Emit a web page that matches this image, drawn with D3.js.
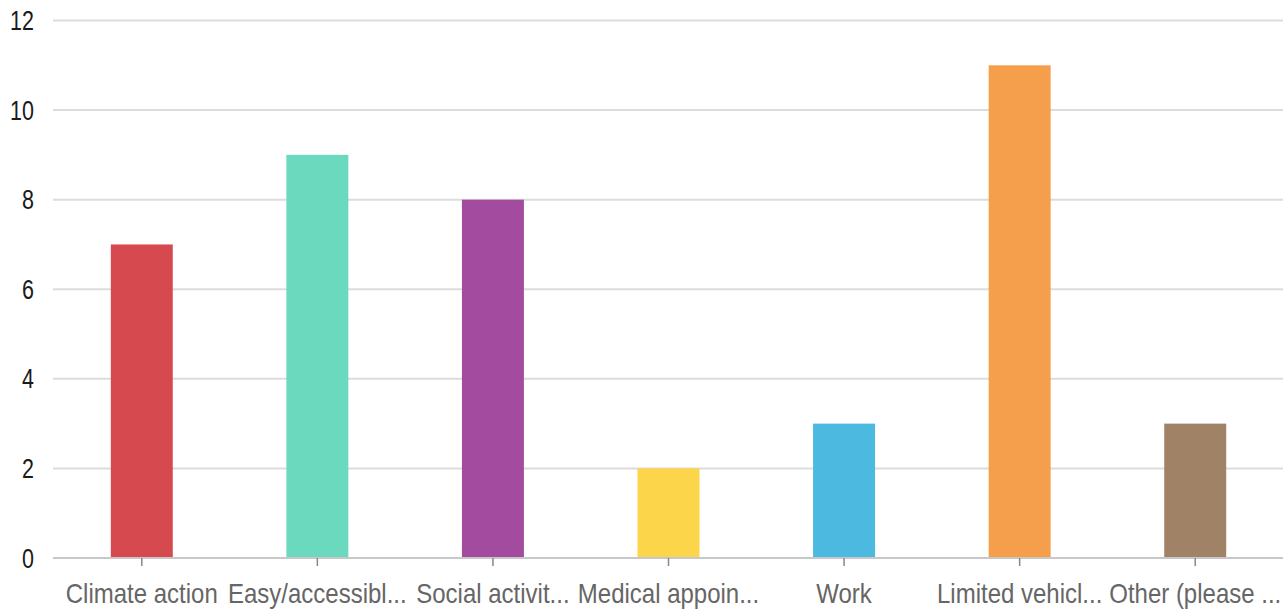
<!DOCTYPE html>
<html>
<head>
<meta charset="utf-8">
<script src="https://cdn.jsdelivr.net/npm/d3@7"></script>
<style>
  html, body { margin: 0; padding: 0; background: #fff; }
  svg { display: block; }
</style>
</head>
<body>
<svg id="chart" width="1288" height="611"></svg>
<script>
'use strict'

const categories = ['Climate action', 'Easy/accessibl...', 'Social activit...', 'Medical appoin...', 'Work', 'Limited vehicl...', 'Other (please ...']
const values = [7, 9, 8, 2, 3, 11, 3]
const colors = ['#d64a4f', '#6ad9be', '#a34c9f', '#fdd54b', '#4bb9e0', '#f59f4c', '#a08266']
const yTicks = [0, 2, 4, 6, 8, 10, 12]

const width = 1288
const height = 611
const margin = { top: 20, right: 5, bottom: 53, left: 54 }

const svg = d3.select('#chart')
const font = '"Liberation Sans", Arial, sans-serif'

const x = d3.scaleBand()
  .domain(categories)
  .range([margin.left, width - margin.right])
  .paddingInner(0.647)
  .paddingOuter(0.3235)

const y = d3.scaleLinear()
  .domain([0, 12])
  .range([height - margin.bottom, margin.top + 0.5])

// gridlines
svg.append('g')
  .selectAll('line')
  .data(yTicks.filter(d => d !== 0))
  .join('line')
  .attr('x1', margin.left - 1)
  .attr('x2', width - margin.right)
  .attr('y1', d => y(d))
  .attr('y2', d => y(d))
  .attr('stroke', '#dcdcdc')
  .attr('stroke-width', 2)

// y labels
svg.append('g')
  .selectAll('text')
  .data(yTicks)
  .join('text')
  .attr('transform', d => `translate(34,${y(d) + 9.5}) scale(1,1.27)`)
  .attr('text-anchor', 'end')
  .attr('font-family', font)
  .attr('font-size', 21.5)
  .attr('fill', '#1a1a1a')
  .text(d => d)

// bars
svg.append('g')
  .selectAll('rect')
  .data(values)
  .join('rect')
  .attr('x', (d, i) => x(categories[i]))
  .attr('width', x.bandwidth())
  .attr('y', d => y(d))
  .attr('height', d => y(0) - y(d))
  .attr('fill', (d, i) => colors[i])

// zero line + ticks
svg.append('line')
  .attr('x1', margin.left - 1)
  .attr('x2', width - margin.right)
  .attr('y1', y(0))
  .attr('y2', y(0))
  .attr('stroke', '#c8c8c8')
  .attr('stroke-width', 2)

svg.append('g')
  .selectAll('line')
  .data(categories)
  .join('line')
  .attr('x1', d => x(d) + x.bandwidth() / 2)
  .attr('x2', d => x(d) + x.bandwidth() / 2)
  .attr('y1', y(0))
  .attr('y2', y(0) + 8)
  .attr('stroke', '#888')
  .attr('stroke-width', 1.5)

// x labels
svg.append('g')
  .selectAll('text')
  .data(categories)
  .join('text')
  .attr('transform', d => `translate(${x(d) + x.bandwidth() / 2},${y(0) + 45}) scale(1,1.17)`)
  .attr('text-anchor', 'middle')
  .attr('font-family', font)
  .attr('font-size', 24)
  .attr('fill', '#666')
  .text(d => d)
</script>
</body>
</html>
